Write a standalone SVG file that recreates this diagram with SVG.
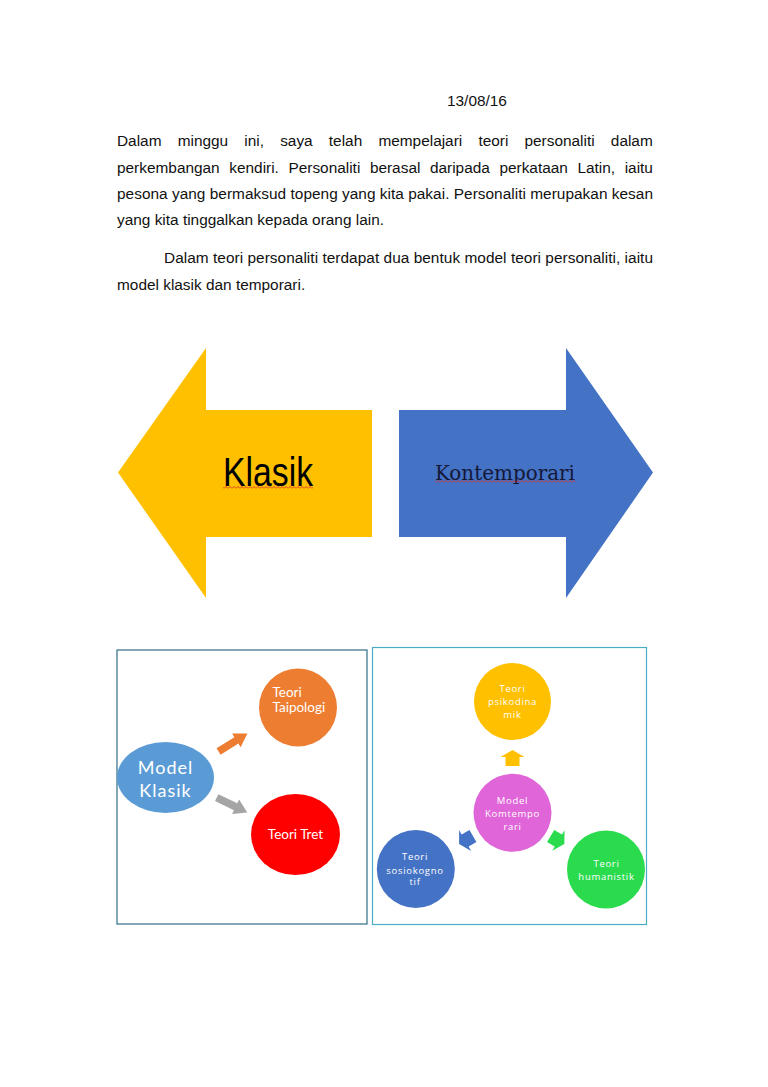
<svg xmlns="http://www.w3.org/2000/svg" width="768" height="1087" viewBox="0 0 768 1087">
<defs>
<style>
.p{font-family:"Liberation Sans",Arial,sans-serif;font-size:15.4px;fill:#111}
.c{font-family:Lato,"Open Sans","Liberation Sans",sans-serif;fill:#fff;text-anchor:middle}
.s{font-family:"Open Sans","Liberation Sans",sans-serif;font-size:9.5px;letter-spacing:0.7px;font-weight:normal}
.box1{fill:none;stroke:#2F6E88;stroke-width:1.2}
.box2{fill:none;stroke:#4BACC6;stroke-width:1.2}
</style>
<pattern id="sq" width="4" height="3" patternUnits="userSpaceOnUse"><path d="M0,2.5 L2,0.5 L4,2.5" fill="none" stroke="#D83030" stroke-width="0.9"/></pattern>
<path id="arrL" d="M-17,-3.8 H4 V-8 L17,0 L4,8 V3.8 H-17 Z"/>
<path id="arrS" d="M-8,-7 H1 V-12 L8,0 L1,12 V7 H-8 Z"/>
</defs>
<rect width="768" height="1087" fill="#fff"/>

<g id="text">
<text class="p" x="447" y="106">13/08/16</text>
<text class="p" x="117" y="146" word-spacing="11.9">Dalam minggu ini, saya telah mempelajari teori personaliti dalam</text>
<text class="p" x="117" y="173" word-spacing="5.3">perkembangan kendiri. Personaliti berasal daripada perkataan Latin, iaitu</text>
<text class="p" x="117" y="199" textLength="536" lengthAdjust="spacing">pesona yang bermaksud topeng yang kita pakai. Personaliti merupakan kesan</text>
<text class="p" x="117" y="225">yang kita tinggalkan kepada orang lain.</text>
<text class="p" x="164" y="263" textLength="489" lengthAdjust="spacing">Dalam teori personaliti terdapat dua bentuk model teori personaliti, iaitu</text>
<text class="p" x="117" y="290">model klasik dan temporari.</text>
</g>

<g id="klasik-arrow">
<polygon points="118,472.5 206,348 206,410 372,410 372,537 206,537 206,598" fill="#FFC000"/>
<text x="223" y="486" font-family="'Liberation Sans',Arial,sans-serif" font-size="40" textLength="90" lengthAdjust="spacingAndGlyphs" fill="#000">Klasik</text>
<rect x="223" y="486" width="90" height="3" fill="url(#sq)"/>
</g>

<g id="kontemporari-arrow">
<polygon points="399,410 566,410 566,348 653,472.5 566,598 566,537 399,537" fill="#4472C4"/>
<text x="435" y="480" font-family="'DejaVu Serif','Liberation Serif',serif" font-size="20" textLength="140" lengthAdjust="spacingAndGlyphs" fill="#141838">Kontemporari</text>
<rect x="435" y="480" width="140" height="3" fill="url(#sq)"/>
</g>

<g id="box-klasik"><rect class="box1" x="117" y="650" width="250" height="274"/></g>
<g id="box-kontemporari"><rect class="box2" x="372.5" y="647.5" width="274" height="277"/></g>

<g id="model-klasik">
<ellipse cx="165.5" cy="777.5" rx="48.5" ry="35.5" fill="#5B9BD5"/>
<text class="c" x="165.5" y="774" font-size="18" letter-spacing="1">Model</text>
<text class="c" x="165.5" y="797" font-size="18" letter-spacing="1">Klasik</text>
</g>
<g id="teori-taipologi">
<circle cx="298" cy="707.5" r="39" fill="#ED7D31"/>
<text class="c" x="272.5" y="697" font-size="13.5" style="text-anchor:start">Teori</text>
<text class="c" x="272.5" y="712" font-size="13.5" style="text-anchor:start">Taipologi</text>
</g>
<g id="teori-tret">
<ellipse cx="295.5" cy="834.5" rx="44.5" ry="40.5" fill="#FF0000"/>
<text class="c" x="295.5" y="839" font-size="13.5">Teori Tret</text>
</g>

<g id="teori-psikodinamik">
<circle cx="512.5" cy="701.5" r="38.5" fill="#FFC000"/>
<text class="c s" x="512.5" y="692">Teori</text>
<text class="c s" x="512.5" y="705">psikodina</text>
<text class="c s" x="512.5" y="717.5">mik</text>
</g>
<g id="model-kontemporari">
<circle cx="512.5" cy="812.8" r="39" fill="#DF65D8"/>
<text class="c s" x="512.5" y="803.5">Model</text>
<text class="c s" x="512.5" y="817">Komtempo</text>
<text class="c s" x="512.5" y="830">rari</text>
</g>
<g id="teori-sosiokognotif">
<circle cx="415.8" cy="869" r="39" fill="#4472C4"/>
<text class="c s" x="415" y="859.5">Teori</text>
<text class="c s" x="415" y="873.5">sosiokogno</text>
<text class="c s" x="415" y="885">tif</text>
</g>
<g id="teori-humanistik">
<circle cx="606" cy="869.5" r="39" fill="#2BDB4E"/>
<text class="c s" x="606.5" y="867">Teori</text>
<text class="c s" x="606.5" y="880">humanistik</text>
</g>

<g id="connectors">
<use href="#arrL" transform="translate(233,742.5) rotate(-32)" fill="#ED7D31"/>
<use href="#arrL" transform="translate(232,805) rotate(26)" fill="#A5A5A5"/>
<use href="#arrS" transform="translate(512.5,758) rotate(-90)" fill="#FFC000"/>
<use href="#arrS" transform="translate(466,840) rotate(150)" fill="#4472C4"/>
<use href="#arrS" transform="translate(557.5,840) rotate(31)" fill="#2BDB4E"/>
</g>
</svg>
